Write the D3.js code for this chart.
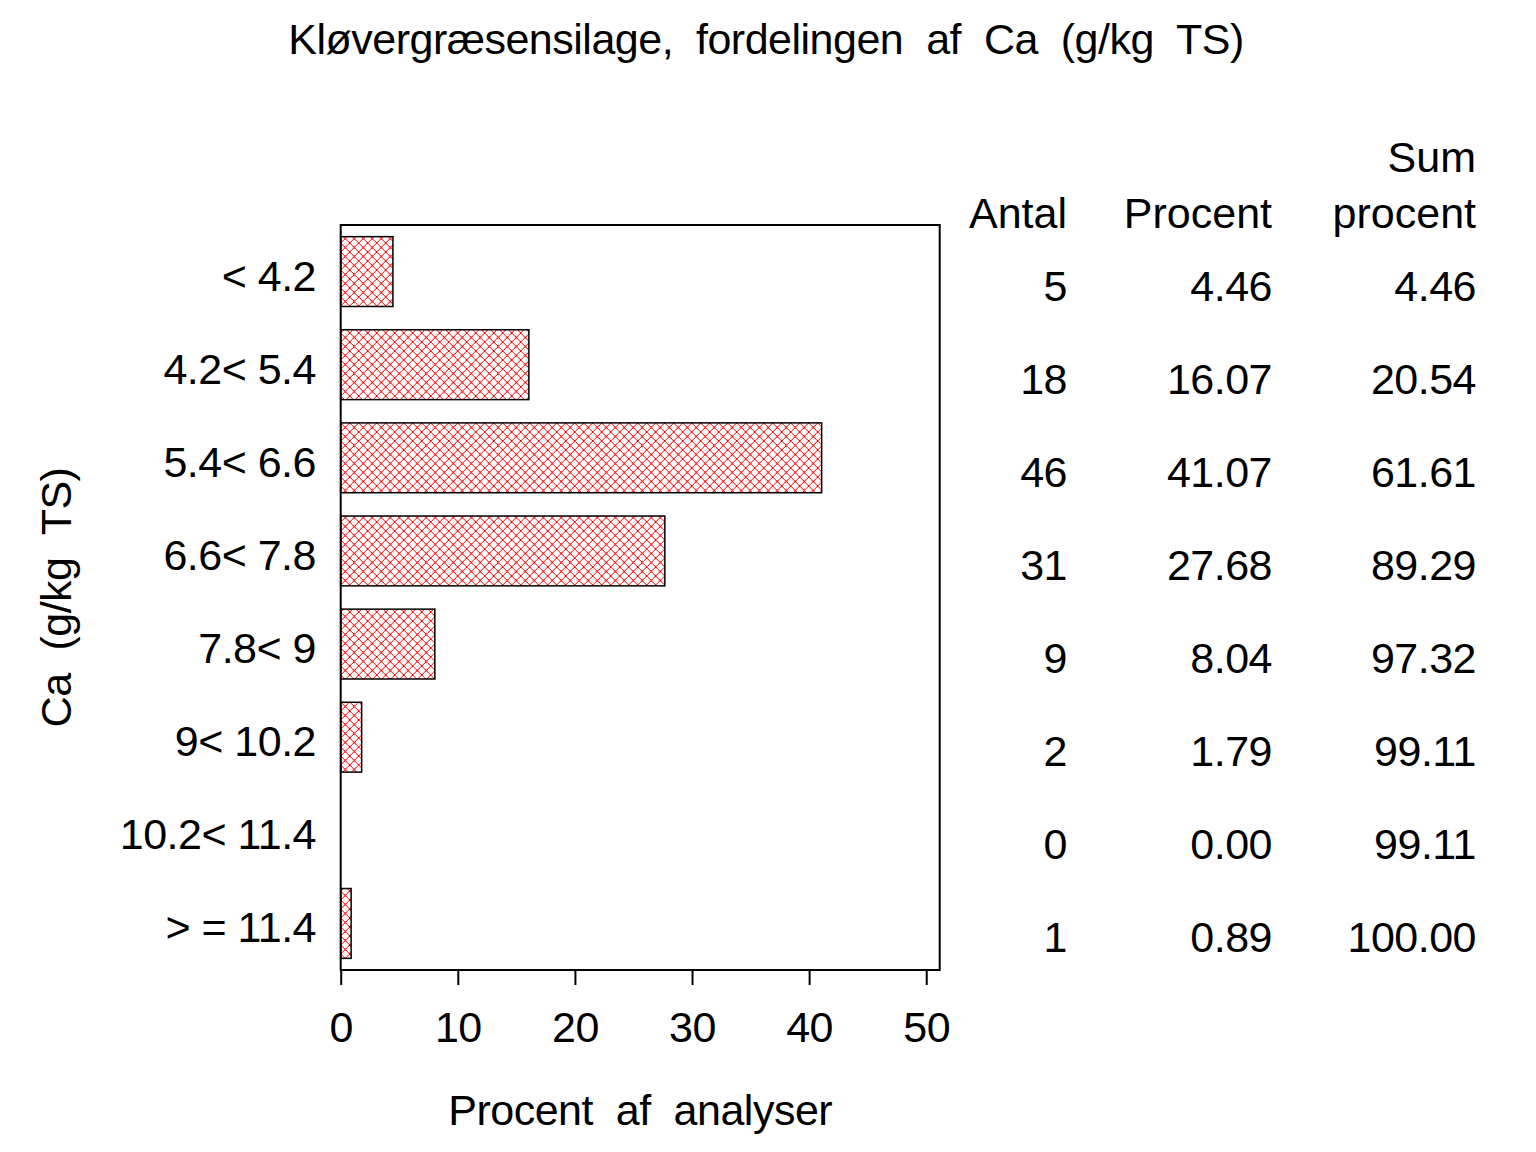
<!DOCTYPE html>
<html>
<head>
<meta charset="utf-8">
<script src="https://cdn.jsdelivr.net/npm/d3@7"></script>
<style>
  html, body { margin: 0; padding: 0; background: #fff; }
  svg text { font-family: "Liberation Sans", Arial, sans-serif; fill: #000; white-space: pre; }
</style>
</head>
<body>
<svg id="chart" width="1536" height="1152"></svg>
<script>
const categories = ["< 4.2", "4.2< 5.4", "5.4< 6.6", "6.6< 7.8", "7.8< 9", "9< 10.2", "10.2< 11.4", "> = 11.4"];
const antal = [5, 18, 46, 31, 9, 2, 0, 1];
const procent = [4.46, 16.07, 41.07, 27.68, 8.04, 1.79, 0.00, 0.89];
const sumProcent = [4.46, 20.54, 61.61, 89.29, 97.32, 99.11, 99.11, 100.00];
const xTicks = [0, 10, 20, 30, 40, 50];
const title = "Kløvergræsensilage,  fordelingen  af  Ca  (g/kg  TS)";
const xLabel = "Procent  af  analyser";
const yLabel = "Ca  (g/kg  TS)";

const svg = d3.select("#chart");
const pLeft = 340.7, pRight = 939.7, pTop = 225, pBottom = 970;
const fs = 43;
const ls = -0.5;

const defs = svg.append("defs");
const pat = defs.append("pattern").attr("id", "hatch")
  .attr("patternUnits", "userSpaceOnUse").attr("width", 9).attr("height", 9)
  .attr("x", pLeft).attr("y", pTop);
pat.append("rect").attr("width", 9).attr("height", 9).attr("fill", "#fff");
pat.append("path").attr("d", "M0,0L9,9M9,0L0,9")
  .attr("stroke", "#ff0000").attr("stroke-width", 1).attr("fill", "none");
pat.append("circle").attr("cx", 4.5).attr("cy", 4.5).attr("r", 1).attr("fill", "#ff0000");

const x = d3.scaleLinear().domain([0, 51.15]).range([pLeft, pRight]);
const y = d3.scaleBand().domain(categories).range([pTop, pBottom]).paddingInner(0.25).paddingOuter(0.125);

// title
svg.append("text").attr("x", 766).attr("y", 54).attr("text-anchor", "middle")
  .attr("font-size", fs).attr("letter-spacing", ls).text(title);

// bars
svg.append("g").selectAll("rect").data(categories).join("rect")
  .attr("x", x(0))
  .attr("y", d => y(d))
  .attr("width", (d, i) => x(procent[i]) - x(0))
  .attr("height", y.bandwidth())
  .attr("fill", "url(#hatch)")
  .attr("stroke", (d, i) => procent[i] > 0 ? "#000" : "none")
  .attr("stroke-width", 1.5);

// frame
svg.append("rect").attr("x", pLeft).attr("y", pTop).attr("width", pRight - pLeft).attr("height", pBottom - pTop)
  .attr("fill", "none").attr("stroke", "#000").attr("stroke-width", 2);

// x axis
const xAxis = d3.axisBottom(x).tickValues(xTicks).tickSize(15).tickPadding(22).tickFormat(d3.format("d"));
const gx = svg.append("g").attr("transform", `translate(0,${pBottom})`).call(xAxis);
gx.select(".domain").remove();
gx.selectAll(".tick line").attr("stroke", "#000").attr("stroke-width", 2);
gx.selectAll(".tick text").attr("font-size", fs).attr("font-family", "Liberation Sans, Arial, sans-serif")
  .attr("letter-spacing", ls)
  .attr("fill", "#000").attr("dy", null).attr("y", 72);

// x label
svg.append("text").attr("x", (pLeft + pRight) / 2).attr("y", 1125).attr("text-anchor", "middle")
  .attr("font-size", fs).attr("letter-spacing", ls).text(xLabel);

// y label
svg.append("text").attr("transform", `translate(71,${(pTop + pBottom) / 2}) rotate(-90)`)
  .attr("text-anchor", "middle").attr("font-size", fs).attr("letter-spacing", ls).text(yLabel);

// row labels
svg.append("g").selectAll("text").data(categories).join("text")
  .attr("x", 316).attr("y", d => y(d) + y.bandwidth() / 2 + 19)
  .attr("text-anchor", "end").attr("font-size", fs).attr("letter-spacing", ls).text(d => d);

// table
const cols = [
  { x: 1067, vals: antal.map(v => String(v)), head: ["", "Antal"] },
  { x: 1272, vals: procent.map(v => v.toFixed(2)), head: ["", "Procent"] },
  { x: 1476, vals: sumProcent.map(v => v.toFixed(2)), head: ["Sum", "procent"] }
];
cols.forEach(c => {
  svg.append("text").attr("x", c.x).attr("y", 172).attr("text-anchor", "end").attr("font-size", fs).text(c.head[0]);
  svg.append("text").attr("x", c.x).attr("y", 228).attr("text-anchor", "end").attr("font-size", fs).text(c.head[1]);
  svg.append("g").selectAll("text").data(categories).join("text")
    .attr("x", c.x).attr("y", d => y(d) + y.bandwidth() / 2 + 29)
    .attr("text-anchor", "end").attr("font-size", fs).attr("letter-spacing", ls).text((d, i) => c.vals[i]);
});
</script>
</body>
</html>
